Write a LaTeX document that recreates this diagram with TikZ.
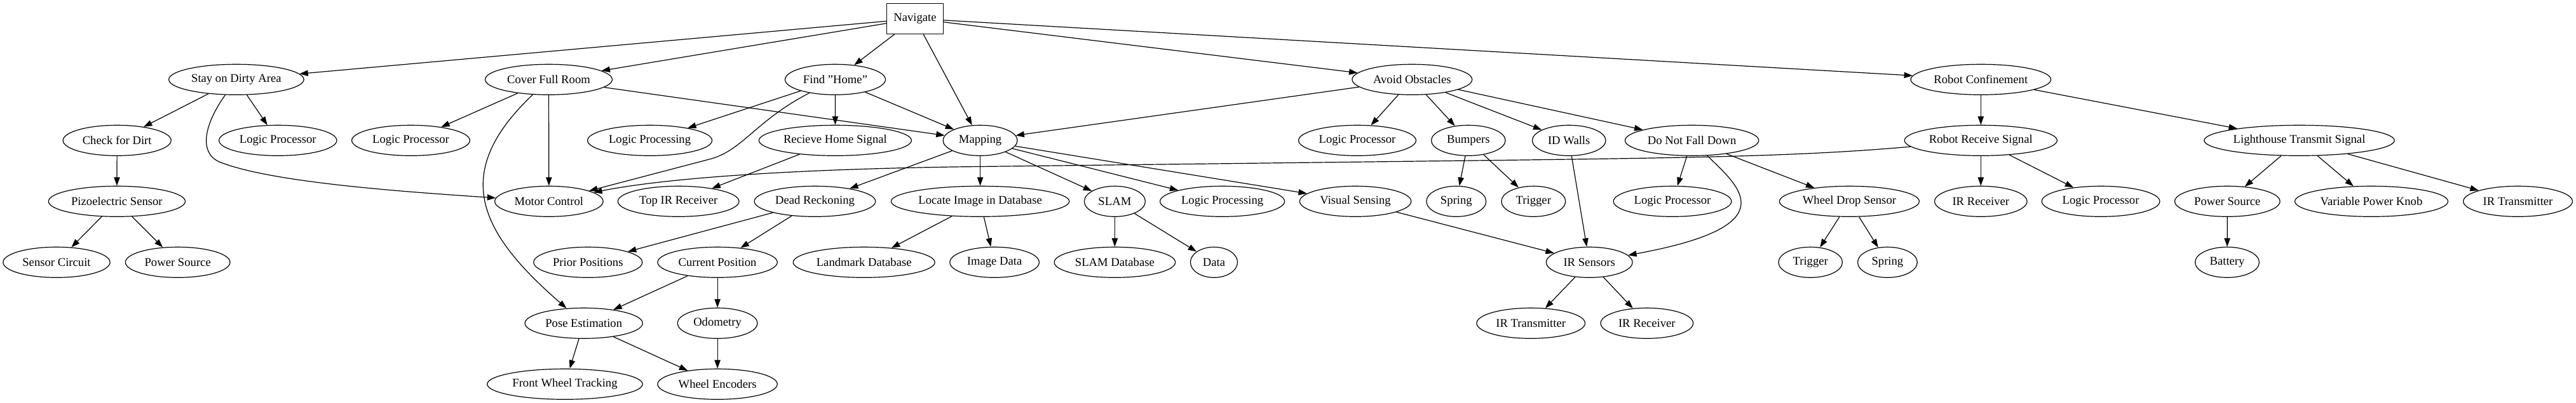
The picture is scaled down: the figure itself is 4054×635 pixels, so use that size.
\documentclass[tikz,border=0pt]{standalone}
\usepackage{fontspec}
\setmainfont{Liberation Serif}
\usetikzlibrary{arrows.meta,shapes.geometric}
\begin{document}
\begin{tikzpicture}[x=0.75pt,y=-0.75pt,
  nd/.style={ellipse,draw,line width=0.9pt,inner sep=0pt,minimum height=36pt,font=\fontsize{14}{16.8}\selectfont},
  bx/.style={rectangle,draw,line width=0.9pt,inner sep=0pt,minimum height=36pt,font=\fontsize{14}{16.8}\selectfont},
  wd/.style={minimum width=#1*0.75pt},
  ar/.style={-{Triangle[length=10pt,width=7pt]},line width=0.9pt}]
\useasboundingbox (0,0) rectangle (4054,635);
% row 0
\node[bx,wd=89] (nav) at (1440,29.3) {Navigate};
% row 1
\node[nd,wd=212.5] (stay) at (371.9,125.3) {Stay on Dirty Area};
\node[nd,wd=200] (cover) at (863.5,125.3) {Cover Full Room};
\node[nd,wd=158] (find) at (1314.5,125.3) {Find "Home"};
\node[nd,wd=188.8] (avoid) at (2222.3,125.3) {Avoid Obstacles};
\node[nd,wd=220.6] (conf) at (3117.3,125.3) {Robot Confinement};
% row 2
\node[nd,wd=170.1] (check) at (184.2,221.3) {Check for Dirt};
\node[nd,wd=185.3] (lpA) at (437.3,221.3) {Logic Processor};
\node[nd,wd=185.8] (lpB) at (646.5,221.3) {Logic Processor};
\node[nd,wd=196] (lproc) at (1022.6,221.3) {Logic Processing};
\node[nd,wd=240] (rhs) at (1314.4,221.3) {Recieve Home Signal};
\node[nd,wd=117] (map) at (1542.6,221.3) {Mapping};
\node[nd,wd=184.8] (lpC) at (2136,221.3) {Logic Processor};
\node[nd,wd=116.5] (bump) at (2310.8,221.3) {Bumpers};
\node[nd,wd=115.6] (idw) at (2469.2,221.3) {ID Walls};
\node[nd,wd=210.4] (dnfd) at (2662.6,221.3) {Do Not Fall Down};
\node[nd,wd=240.2] (rrs) at (3117.3,221.3) {Robot Receive Signal};
\node[nd,wd=299.4] (lts) at (3618.5,221.3) {Lighthouse Transmit Signal};
% row 3
\node[nd,wd=215.2] (pizo) at (183.9,317.3) {Pizoelectric Sensor};
\node[nd,wd=170.5] (motor) at (863.9,317.3) {Motor Control};
\node[nd,wd=190.6] (topir) at (1067.7,317.3) {Top IR Receiver};
\node[nd,wd=190.6] (dead) at (1282.5,317.3) {Dead Reckoning};
\node[nd,wd=280.4] (locate) at (1542.6,317.3) {Locate Image in Database};
\node[nd,wd=96] (slam) at (1754.4,317.3) {SLAM};
\node[nd,wd=196] (lprocB) at (1923.6,317.3) {Logic Processing};
\node[nd,wd=175.4] (vis) at (2133.1,317.3) {Visual Sensing};
\node[nd,wd=93.8] (springA) at (2291.8,317.3) {Spring};
\node[nd,wd=100.9] (trigA) at (2413.3,317.3) {Trigger};
\node[nd,wd=185.7] (lpD) at (2632,317.3) {Logic Processor};
\node[nd,wd=220] (wds) at (2910.4,317.3) {Wheel Drop Sensor};
\node[nd,wd=145.5] (irrB) at (3117.3,317.3) {IR Receiver};
\node[nd,wd=185.7] (lpE) at (3306.1,317.3) {Logic Processor};
\node[nd,wd=165.6] (psB) at (3505.3,317.3) {Power Source};
\node[nd,wd=241] (vpk) at (3732,317.3) {Variable Power Knob};
\node[nd,wd=171.8] (irtB) at (3962.5,317.3) {IR Transmitter};
% row 4
\node[nd,wd=168.3] (sc) at (89,413.3) {Sensor Circuit};
\node[nd,wd=164.7] (psA) at (279.7,413.3) {Power Source};
\node[nd,wd=171] (prior) at (925.3,413.3) {Prior Positions};
\node[nd,wd=188.4] (cur) at (1129.1,413.3) {Current Position};
\node[nd,wd=222.9] (landmark) at (1359.7,413.3) {Landmark Database};
\node[nd,wd=140.6] (imgdata) at (1565.1,413.3) {Image Data};
\node[nd,wd=190.6] (slamdb) at (1754.4,413.3) {SLAM Database};
\node[nd,wd=74.1] (data) at (1910.5,413.3) {Data};
\node[nd,wd=135.7] (irs) at (2501.2,413.3) {IR Sensors};
\node[nd,wd=100.5] (trigB) at (2849.2,413.3) {Trigger};
\node[nd,wd=93.8] (springB) at (2970.4,413.3) {Spring};
\node[nd,wd=100.9] (battery) at (3505,413.3) {Battery};
% row 5
\node[nd,wd=185.3] (pose) at (918.7,509.3) {Pose Estimation};
\node[nd,wd=125.9] (odo) at (1129.1,509.3) {Odometry};
\node[nd,wd=170.6] (irtA) at (2409.2,509.3) {IR Transmitter};
\node[nd,wd=145.6] (irrA) at (2591.8,509.3) {IR Receiver};
% row 6
\node[nd,wd=244.6] (fwt) at (889,605.3) {Front Wheel Tracking};
\node[nd,wd=188.4] (we) at (1129.1,605.3) {Wheel Encoders};
% edges
\draw[ar] (nav) -- (stay);
\draw[ar] (nav) -- (cover);
\draw[ar] (nav) -- (find);
\draw[ar] (nav) -- (map);
\draw[ar] (nav) -- (avoid);
\draw[ar] (nav) -- (conf);
\draw[ar] (stay) -- (check);
\draw[ar] (stay) -- (lpA);
\draw[ar] (stay) .. controls (322,195) and (312,240) .. (345,255) .. controls (420,285) and (600,300) .. (motor);
\draw[ar] (check) -- (pizo);
\draw[ar] (pizo) -- (sc);
\draw[ar] (pizo) -- (psA);
\draw[ar] (cover) -- (lpB);
\draw[ar] (cover) -- (motor);
\draw[ar] (cover) -- (map);
\draw[ar] (cover) .. controls (709,272) and (752,364.5) .. (pose);
\draw[ar] (find) -- (lproc);
\draw[ar] (find) -- (rhs);
\draw[ar] (find) -- (map);
\draw[ar] (find) .. controls (1190,190) and (1170,235) .. (1120,250) -- (motor);
\draw[ar] (rhs) -- (topir);
\draw[ar] (map) -- (dead);
\draw[ar] (map) -- (locate);
\draw[ar] (map) -- (slam);
\draw[ar] (map) -- (lprocB);
\draw[ar] (map) -- (vis);
\draw[ar] (dead) -- (prior);
\draw[ar] (dead) -- (cur);
\draw[ar] (cur) -- (pose);
\draw[ar] (cur) -- (odo);
\draw[ar] (pose) -- (fwt);
\draw[ar] (pose) -- (we);
\draw[ar] (odo) -- (we);
\draw[ar] (locate) -- (landmark);
\draw[ar] (locate) -- (imgdata);
\draw[ar] (slam) -- (slamdb);
\draw[ar] (slam) -- (data);
\draw[ar] (vis) -- (irs);
\draw[ar] (avoid) -- (map);
\draw[ar] (avoid) -- (lpC);
\draw[ar] (avoid) -- (bump);
\draw[ar] (avoid) -- (idw);
\draw[ar] (avoid) -- (dnfd);
\draw[ar] (bump) -- (springA);
\draw[ar] (bump) -- (trigA);
\draw[ar] (idw) -- (irs);
\draw[ar] (dnfd) -- (lpD);
\draw[ar] (dnfd) -- (wds);
\draw[ar] (dnfd) .. controls (2735.5,293.4) and (2816.5,355.6) .. (irs);
\draw[ar] (wds) -- (trigB);
\draw[ar] (wds) -- (springB);
\draw[ar] (irs) -- (irtA);
\draw[ar] (irs) -- (irrA);
\draw[ar] (conf) -- (rrs);
\draw[ar] (conf) -- (lts);
\draw[ar] (rrs) .. controls (2850,245) and (2700,248) .. (2400,252) -- (1500,263) .. controls (1250,267) and (1050,280) .. (motor);
\draw[ar] (rrs) -- (irrB);
\draw[ar] (rrs) -- (lpE);
\draw[ar] (lts) -- (psB);
\draw[ar] (lts) -- (vpk);
\draw[ar] (lts) -- (irtB);
\draw[ar] (psB) -- (battery);
\end{tikzpicture}
\end{document}
